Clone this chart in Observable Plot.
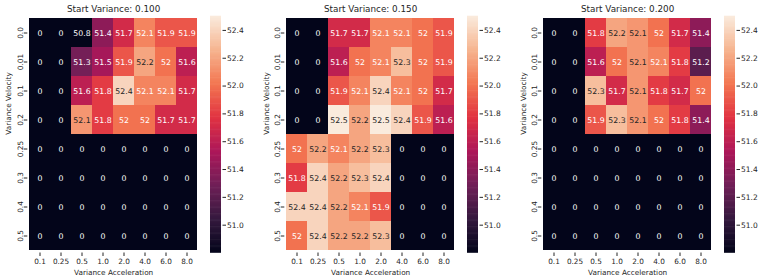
<!DOCTYPE html>
<html><head><meta charset="utf-8">
<script src="https://cdn.jsdelivr.net/npm/d3@7"></script>
<script src="https://cdn.jsdelivr.net/npm/@observablehq/plot@0.6"></script>
<style>
body{margin:0;background:#fff;}
#fig{position:relative;width:762px;height:280px;overflow:hidden;background:#fff;}
#fig > div, #fig > svg{position:absolute;top:0;}
</style></head><body><div id="fig"></div>
<script>
// ---- data ----
const accel = ["0.1","0.25","0.5","1.0","2.0","4.0","6.0","8.0"];
const velocity = ["0.0","0.01","0.1","0.2","0.25","0.3","0.4","0.5"];
const titles = ["Start Variance: 0.100","Start Variance: 0.150","Start Variance: 0.200"];
const values100 = [
  [0,0,50.8,51.4,51.7,52.07,51.9,51.9],
  [0,0,51.3,51.5,51.9,52.2,52.0,51.6],
  [0,0,51.6,51.8,52.4,52.07,52.07,51.7],
  [0,0,52.14,51.8,52.0,52.0,51.7,51.7],
  [0,0,0,0,0,0,0,0],
  [0,0,0,0,0,0,0,0],
  [0,0,0,0,0,0,0,0],
  [0,0,0,0,0,0,0,0]
];
const values150 = [
  [0,0,51.7,51.7,52.07,52.07,52.0,51.9],
  [0,0,51.6,52.0,52.07,52.3,52.0,51.9],
  [0,0,51.9,52.07,52.4,52.07,52.0,51.7],
  [0,0,52.5,52.2,52.5,52.4,51.9,51.6],
  [52.0,52.2,52.07,52.2,52.3,0,0,0],
  [51.8,52.4,52.2,52.3,52.4,0,0,0],
  [52.4,52.4,52.2,52.07,51.9,0,0,0],
  [52.0,52.4,52.2,52.2,52.3,0,0,0]
];
const values200 = [
  [0,0,51.8,52.2,52.14,52.0,51.7,51.4],
  [0,0,51.6,52.0,52.14,52.07,51.8,51.2],
  [0,0,52.3,51.7,52.14,51.8,51.7,52.0],
  [0,0,51.9,52.3,52.14,52.0,51.8,51.4],
  [0,0,0,0,0,0,0,0],
  [0,0,0,0,0,0,0,0],
  [0,0,0,0,0,0,0,0],
  [0,0,0,0,0,0,0,0]
];
const colorbarTicks = [51.0,51.2,51.4,51.6,51.8,52.0,52.2,52.4];
const rocketStops = ["#03051a","#35193e","#701f57","#ad1759","#e13342","#f37651","#f6b48f","#faebdd"];

// ---- helpers ----
const matrices = [values100, values150, values200];
const allNonZero = matrices.flat(2).filter(v => v > 0);
const vmin = d3.min(allNonZero), vmax = d3.max(allNonZero);
const rocket = d3.piecewise(d3.interpolateRgb, rocketStops);
const norm = d3.scaleLinear().domain([vmin, vmax]).range([0, 1]).clamp(true);
function luminance(c) {
  const {r, g, b} = d3.rgb(c);
  const lin = v => { v /= 255; return v <= 0.03928 ? v / 12.92 : Math.pow((v + 0.055) / 1.055, 2.4); };
  return 0.2126 * lin(r) + 0.7152 * lin(g) + 0.0722 * lin(b);
}
const textColor = v => luminance(rocket(norm(v))) > 0.408 ? "#262626" : "#ffffff";
const fmt = d3.format(".3~g");
const colorOpts = {type: "linear", domain: [vmin, vmax], interpolate: t => rocket(t), clamp: true};

const FONT = "DejaVu Sans";
const INK = "#262626";
const H = 280, mTop = 16, mBottom = 27.5, mLeft = 27.3, heatW = 171.7;
const panelLeft = [0, 256.5, 513.5];
const cbGap = 11, cbW = 11.5;
const FS_ANN = 7.8, FS_TICK = 7.3, FS_LABEL = 7.3, FS_CB = 7.5, FS_TITLE = 8.8;

const fig = document.getElementById("fig");

matrices.forEach((m, i) => {
  const data = [];
  m.forEach((row, r) => row.forEach((v, c) => data.push({vel: velocity[r], acc: accel[c], value: v})));
  const p = Plot.plot({
    width: mLeft + heatW + 1, height: H,
    marginLeft: mLeft, marginRight: 1, marginTop: mTop, marginBottom: mBottom,
    style: {fontFamily: FONT, color: INK, background: "transparent", overflow: "visible"},
    x: {type: "band", domain: accel, padding: 0},
    y: {type: "band", domain: velocity, padding: 0},
    color: colorOpts,
    marks: [
      Plot.cell(data, {x: "acc", y: "vel", fill: "value"}),
      Plot.text(data, {x: "acc", y: "vel", text: d => fmt(d.value), fill: d => textColor(d.value), fontSize: FS_ANN}),
      Plot.axisX({tickSize: 3.5, tickPadding: 2.2, fontSize: FS_TICK, label: null, stroke: INK}),
      Plot.axisY({tickSize: 3.5, tickPadding: 1.5, tickRotate: -90, fontSize: FS_TICK, label: null, stroke: INK}),
      Plot.text([titles[i]], {frameAnchor: "top", lineAnchor: "bottom", dy: -4.5, fontSize: FS_TITLE, fill: INK}),
      Plot.text(["Variance Acceleration"], {frameAnchor: "bottom", lineAnchor: "bottom", dy: 21.6, fontSize: FS_LABEL, fill: INK}),
      Plot.text(["Variance Velocity"], {frameAnchor: "left", lineAnchor: "bottom", rotate: -90, dx: -16.3, fontSize: FS_LABEL, fill: INK})
    ]
  });
  p.style.left = panelLeft[i] + "px";
  fig.appendChild(p);

  // colorbar
  const steps = 200;
  const cbData = d3.range(steps).map(k => ({y1: vmin + (vmax - vmin) * k / steps, y2: vmin + (vmax - vmin) * (k + 1) / steps}));
  const cb = Plot.plot({
    width: cbW + 40, height: H,
    marginLeft: 0, marginRight: 40, marginTop: mTop, marginBottom: mBottom,
    style: {fontFamily: FONT, color: INK, background: "transparent", overflow: "visible"},
    x: {type: "band", domain: ["cb"], padding: 0, axis: null},
    y: {type: "linear", domain: [vmin, vmax]},
    color: colorOpts,
    marks: [
      Plot.barY(cbData, {x: () => "cb", y1: "y1", y2: "y2", fill: d => (d.y1 + d.y2) / 2, inset: 0, insetTop: -0.3, insetBottom: -0.3}),
      Plot.axisY({anchor: "right", ticks: colorbarTicks, tickFormat: d3.format(".1f"), tickSize: 3.5, tickPadding: 1.5, fontSize: FS_CB, label: null, stroke: INK})
    ]
  });
  cb.style.left = (panelLeft[i] + mLeft + heatW + cbGap) + "px";
  fig.appendChild(cb);
});
</script></body></html>
